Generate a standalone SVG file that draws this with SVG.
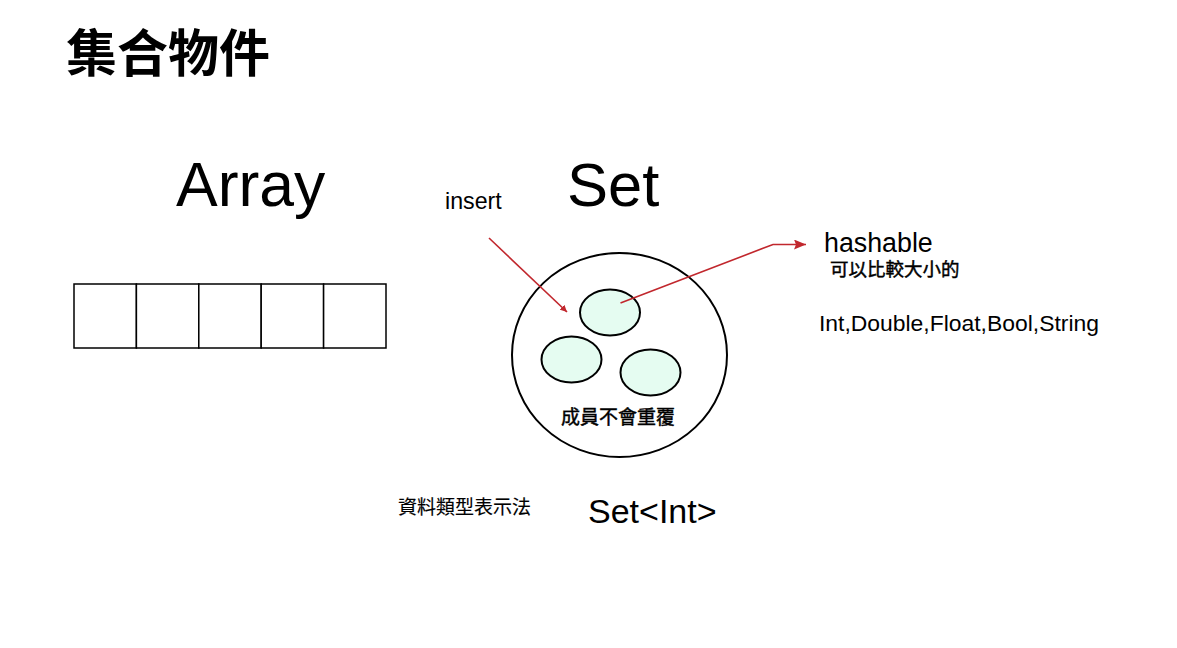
<svg xmlns="http://www.w3.org/2000/svg" width="1177" height="648" viewBox="0 0 1177 648">
<style>
text{font-family:"Liberation Sans","Noto Sans CJK TC",sans-serif;fill:#000}
.cjk{font-family:"Noto Sans CJK TC","Noto Sans CJK SC",sans-serif}
.semi{stroke:#000;stroke-width:0.45}
.light{stroke:#000;stroke-width:0.15}
.cell{fill:#fff;stroke:#000;stroke-width:1.5}
.member{fill:#e5fcf1;stroke:#000;stroke-width:2}
.conn{fill:none;stroke:#c1272d;stroke-width:1.6}
</style>
<defs>
<marker id="ah" viewBox="0 0 10 10" refX="10" refY="5" markerWidth="7" markerHeight="7" markerUnits="userSpaceOnUse" orient="auto">
<path d="M0,0 L10,5 L0,10 Z" fill="#c1272d"/>
</marker>
<marker id="ah2" viewBox="0 0 12 10" refX="12" refY="5" markerWidth="12" markerHeight="10" markerUnits="userSpaceOnUse" orient="auto">
<path d="M0,0 L12,5 L0,10 L2,5 Z" fill="#c1272d"/>
</marker>
</defs>
<rect width="1177" height="648" fill="#fff"/>
<text class="cjk" x="66" y="72" font-size="51" font-weight="bold">集合物件</text>
<g id="array">
<text x="176" y="206" font-size="62.5">Array</text>
<rect class="cell" x="74" y="284" width="62.4" height="64"/>
<rect class="cell" x="136.4" y="284" width="62.4" height="64"/>
<rect class="cell" x="198.8" y="284" width="62.4" height="64"/>
<rect class="cell" x="261.2" y="284" width="62.4" height="64"/>
<rect class="cell" x="323.6" y="284" width="62.4" height="64"/>
</g>
<g id="set">
<text x="567" y="206" font-size="61.5">Set</text>
<ellipse cx="619.5" cy="355" rx="107.5" ry="102" fill="#fff" stroke="#000" stroke-width="2"/>
<ellipse class="member" cx="610" cy="312.5" rx="30" ry="23"/>
<ellipse class="member" cx="571.5" cy="359.5" rx="30" ry="23"/>
<ellipse class="member" cx="650.5" cy="372.5" rx="30" ry="23"/>
<text class="cjk semi" x="561" y="424" font-size="19">成員不會重覆</text>
</g>
<g id="insert">
<text x="445" y="209" font-size="23.2">insert</text>
</g>
<g id="hashable">
<text x="824" y="252" font-size="26.8">hashable</text>
<text class="cjk semi" x="830" y="276" font-size="18.5">可以比較大小的</text>
</g>
<g id="types">
<text x="819" y="331" font-size="22.9">Int,Double,Float,Bool,String</text>
</g>
<g id="notation">
<text class="cjk light" x="398" y="514" font-size="19">資料類型表示法</text>
<text x="588" y="523" font-size="34">Set&lt;Int&gt;</text>
</g>
<g id="connectors">
<line class="conn" x1="489" y1="238" x2="567" y2="312" marker-end="url(#ah)"/>
<polyline class="conn" points="620.5,303 773,244.5 806,244.5" marker-end="url(#ah2)"/>
</g>
</svg>
